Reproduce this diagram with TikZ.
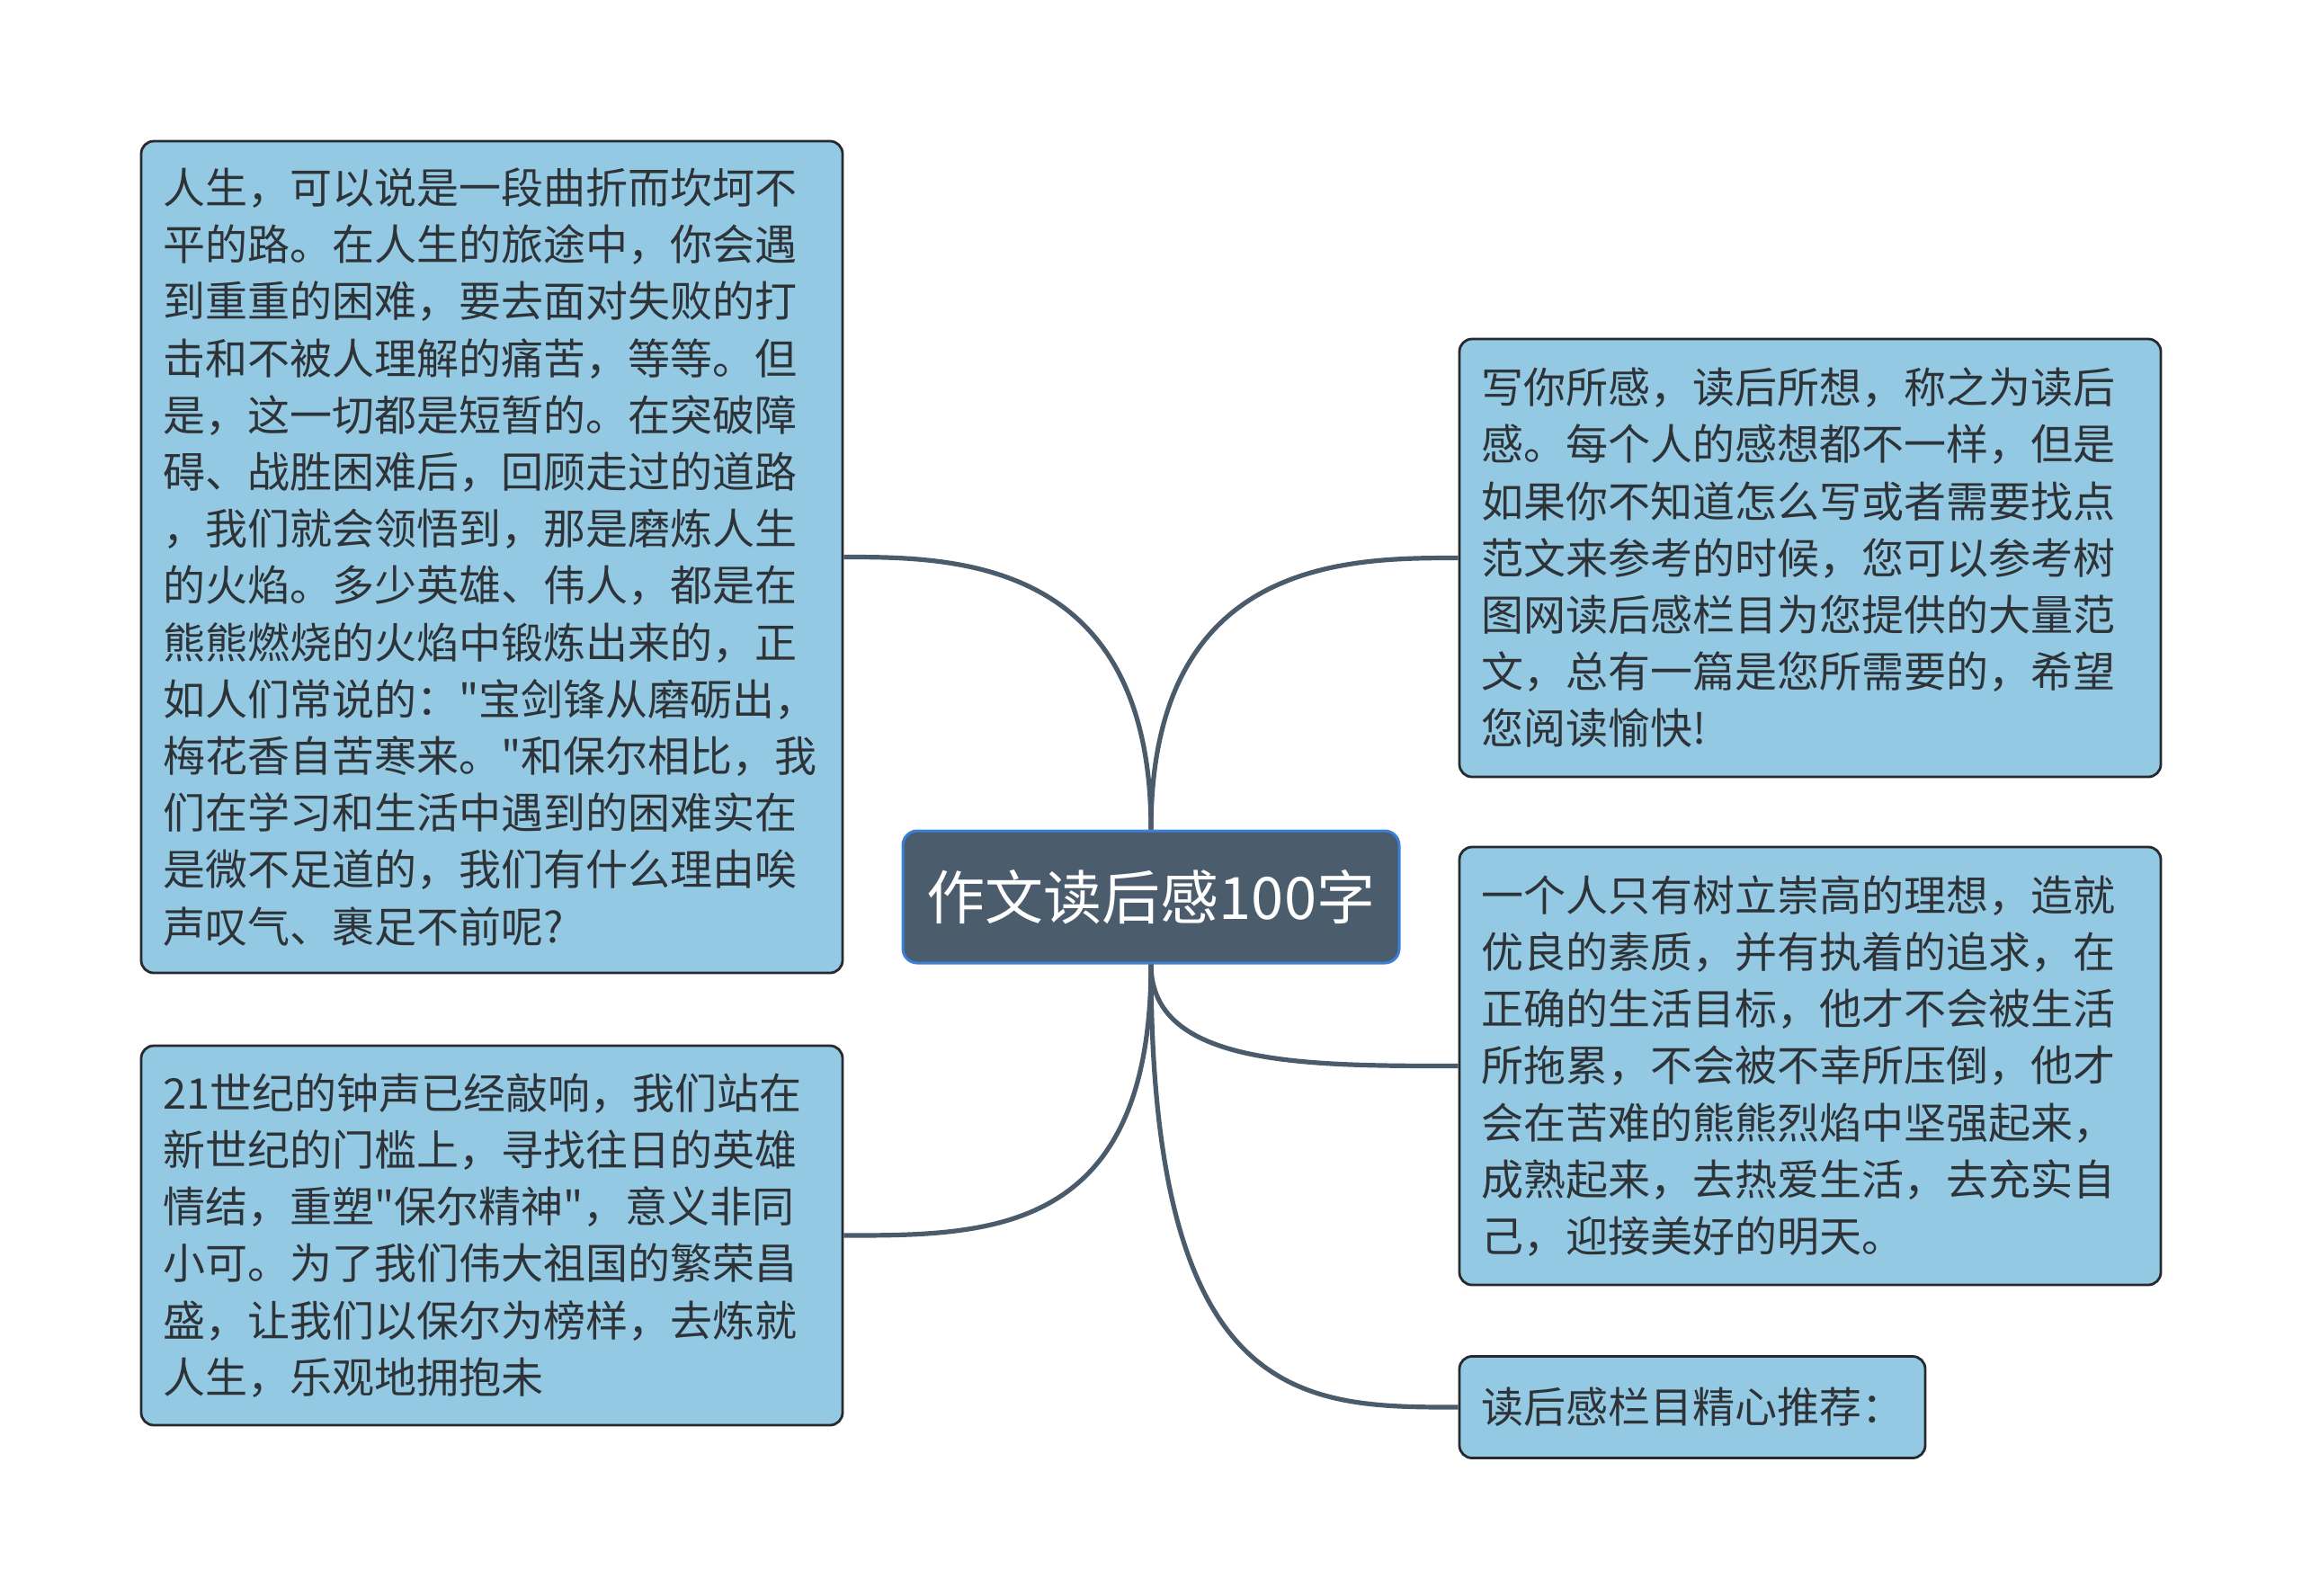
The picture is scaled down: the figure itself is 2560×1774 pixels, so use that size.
\documentclass[tikz,border=0pt]{standalone}
\usepackage{fontspec}
\setmainfont{Noto Sans CJK SC}[Ligatures=TeXOff]
\definecolor{boxfill}{HTML}{94C9E3}
\definecolor{boxline}{HTML}{262A2E}
\definecolor{txt}{HTML}{2E3338}
\definecolor{rootfill}{HTML}{4B5D6D}
\definecolor{rootline}{HTML}{3C7FD8}
\definecolor{link}{HTML}{4A5B6B}
\tikzset{
  leaf/.style={draw=boxline, line width=1.4pt, fill=boxfill, rounded corners=7pt,
    text=txt, align=left, inner sep=0pt,
    font=\fontsize{23.5pt}{31.6pt}\selectfont},
  rootbox/.style={draw=rootline, line width=1.5pt, fill=rootfill, rounded corners=8pt,
    text=white, align=center, inner sep=0pt,
    font=\fontsize{32.5pt}{40pt}\selectfont},
  conn/.style={draw=link, line width=2.6pt}
}
\begin{document}
\begin{tikzpicture}[x=0.5pt,y=-0.5pt]
\useasboundingbox (0,0) rectangle (2560,1774);
\fill[white] (0,0) rectangle (2560,1774);

\node[rootbox, minimum width=276pt, minimum height=73.5pt] (c) at (1280,997.5) {作文读后感100字};

\node[leaf, minimum width=390pt, minimum height=462.5pt, text width=366pt] (l1) at (547,619.5) {人生，可以说是一段曲折而坎坷不\\平的路。在人生的旅途中，你会遇\\到重重的困难，要去面对失败的打\\击和不被人理解的痛苦，等等。但\\是，这一切都是短暂的。在突破障\\碍、战胜困难后，回顾走过的道路\\，我们就会领悟到，那是磨炼人生\\的火焰。多少英雄、伟人，都是在\\熊熊燃烧的火焰中锻炼出来的，正\\如人们常说的："宝剑锋从磨砺出，\\梅花香自苦寒来。"和保尔相比，我\\们在学习和生活中遇到的困难实在\\是微不足道的，我们有什么理由唉\\声叹气、裹足不前呢?};

\node[leaf, minimum width=390pt, minimum height=211pt, text width=366pt] (l2) at (547,1374) {21世纪的钟声已经敲响，我们站在\\新世纪的门槛上，寻找往日的英雄\\情结，重塑"保尔精神"，意义非同\\小可。为了我们伟大祖国的繁荣昌\\盛，让我们以保尔为榜样，去炼就\\人生，乐观地拥抱未};

\node[leaf, minimum width=390pt, minimum height=243.5pt, text width=366pt] (r1) at (2013,620.5) {写你所感，读后所想，称之为读后\\感。每个人的感想都不一样，但是\\如果你不知道怎么写或者需要找点\\范文来参考的时候，您可以参考树\\图网读后感栏目为您提供的大量范\\文，总有一篇是您所需要的，希望\\您阅读愉快!};

\node[leaf, minimum width=390pt, minimum height=243.5pt, text width=366pt] (r2) at (2013,1185.5) {一个人只有树立崇高的理想，造就\\优良的素质，并有执着的追求，在\\正确的生活目标，他才不会被生活\\所拖累，不会被不幸所压倒，他才\\会在苦难的熊熊烈焰中坚强起来，\\成熟起来，去热爱生活，去充实自\\己，迎接美好的明天。};

\node[leaf, minimum width=259pt, minimum height=56.5pt, text width=235pt] (r3) at (1882,1565) {读后感栏目精心推荐：};

\draw[conn] (c.north) .. controls (1280,620) and (1060,619.5) .. (l1.east);
\draw[conn] (c.north) .. controls (1280,620) and (1500,620.5) .. (r1.west);
\draw[conn] (c.south) .. controls (1280,1374) and (1100,1374) .. (l2.east);
\draw[conn] (c.south) .. controls (1280,1185.5) and (1450,1185.5) .. (r2.west);
\draw[conn] (c.south) .. controls (1280,1565) and (1450,1565) .. (r3.west);
\end{tikzpicture}
\end{document}
